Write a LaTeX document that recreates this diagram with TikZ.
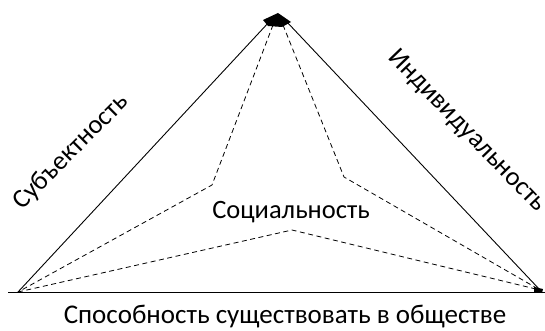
\documentclass[tikz,border=0pt]{standalone}
\usepackage{fontspec}
\setmainfont{Carlito}
\begin{document}
\begin{tikzpicture}[x=1pt,y=-1pt,
  solidline/.style={line width=0.9pt},
  dashline/.style={line width=0.8pt,dash pattern=on 5pt off 3.5pt},
  lbl/.style={font=\fontsize{26.5}{30}\selectfont,inner sep=0pt}]
\useasboundingbox (0,0) rectangle (545,331);
\coordinate (apexL) at (270,21);
\coordinate (apexR) at (286,21);
\coordinate (bl) at (18,292);
\coordinate (br) at (540,290);
\coordinate (dl) at (212,185);
\coordinate (dr) at (344,177);
\coordinate (db) at (292,230);
\coordinate (baseL) at (8,292);
\coordinate (baseR) at (545,292);
\coordinate (dtl) at (273,25);
\coordinate (dtr) at (283,25);
% base
\draw[solidline] (baseL) -- (baseR);
% sides
\draw[solidline] (bl) -- (apexL);
\draw[solidline] (apexR) -- (br);
% dashed inner
\draw[dashline] (dtl) -- (dl) -- (bl);
\draw[dashline] (dtr) -- (dr) -- (br);
\draw[dashline] (bl) -- (db) -- (br);
% top blob
\fill (263,20) -- (278,13) -- (291,22) -- (282,27) -- (268,26) -- cycle;
% right corner blob
\fill (534,287) -- (543,289) -- (542,293) -- (534,292) -- cycle;
% labels
\node[lbl,rotate=45] (subj) at (71,152) {Субъектность};
\node[lbl,rotate=-46] (ind) at (467,131) {Индивидуальность};
\node[lbl] (soc) at (291,212) {Социальность};
\node[lbl,font=\fontsize{27}{30}\selectfont] (sposob) at (285,317) {Способность существовать в обществе};
\end{tikzpicture}
\end{document}
